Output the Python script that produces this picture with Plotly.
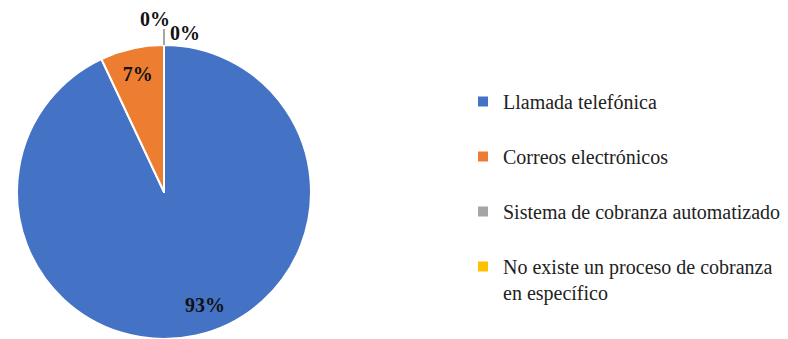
import math
import plotly.graph_objects as go

# Survey data: collection methods used
categories = [
    "Llamada telefónica",
    "Correos electrónicos",
    "Sistema de cobranza automatizado",
    "No existe un proceso de cobranza<br>en específico",
]
percentages = [93, 7, 0, 0]
colors = ["#4472C4", "#ED7D31", "#A5A5A5", "#FFC000"]

W, H = 788, 339
FONT = "Liberation Serif"

# pie placement in pixels
cx, cy, r = 164, 192, 147


def px_x(x):
    return x / W


def px_y(y):
    return 1 - y / H


# pad single-line legend entries so that entries are spread vertically
legend_labels = [c if "<br>" in c else c + "<br> " for c in categories]

# the small slice carries its label inside; the large one is labelled separately
texts = [f"<b>{v}%</b>" if 0 < v < 50 else "" for v in percentages]

fig = go.Figure(
    go.Pie(
        labels=legend_labels,
        values=percentages,
        sort=False,
        direction="clockwise",
        rotation=0,
        marker=dict(colors=colors, line=dict(color="white", width=2)),
        text=texts,
        textinfo="text",
        textposition="inside",
        insidetextorientation="horizontal",
        textfont=dict(family=FONT, size=20, color="#111111"),
        domain=dict(x=[px_x(cx - r), px_x(cx + r)], y=[px_y(cy + r), px_y(cy - r)]),
        showlegend=True,
        hoverinfo="label+percent",
    )
)

# label of the dominant slice, placed in its lower part
big = max(range(len(percentages)), key=lambda i: percentages[i])
ang = math.radians(160)
fig.add_annotation(
    x=px_x(cx + 0.82 * r * math.sin(ang)), y=px_y(cy - 0.82 * r * math.cos(ang)),
    xref="paper", yref="paper",
    text=f"<b>{percentages[big]}%</b>", showarrow=False,
    font=dict(family=FONT, size=20, color="#111111"),
    xanchor="center", yanchor="middle",
)

# zero-share slices sit at the top of the pie: label them outside with a leader
top_y = cy - r
zero_idx = [i for i, v in enumerate(percentages) if v == 0]
offsets = [(-9, -26), (21, -12)]
for i, (dx, dy) in zip(zero_idx, offsets):
    fig.add_annotation(
        x=px_x(cx + dx), y=px_y(top_y + dy), xref="paper", yref="paper",
        text=f"<b>{percentages[i]}%</b>", showarrow=False,
        font=dict(family=FONT, size=20, color="#111111"),
        xanchor="center", yanchor="middle",
    )
fig.add_shape(
    type="line", xref="paper", yref="paper",
    x0=px_x(cx), x1=px_x(cx), y0=px_y(top_y - 16), y1=px_y(top_y),
    line=dict(color="#A5A5A5", width=2),
)

fig.update_layout(
    width=W, height=H,
    margin=dict(l=0, r=0, t=0, b=0),
    paper_bgcolor="white",
    plot_bgcolor="white",
    legend=dict(
        x=px_x(463), y=px_y(82), xanchor="left", yanchor="top",
        font=dict(family=FONT, size=20, color="#222222"),
        valign="top",
        bgcolor="rgba(0,0,0,0)",
    ),
)

fig.write_html("out.html")
